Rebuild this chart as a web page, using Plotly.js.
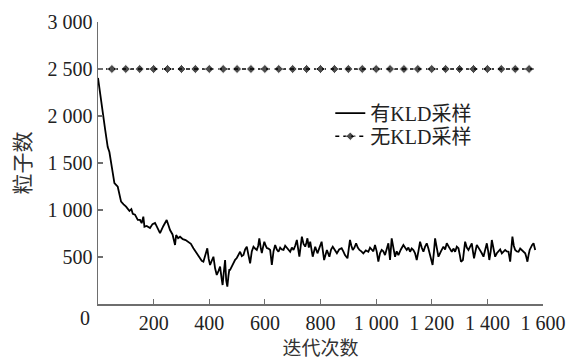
<!DOCTYPE html>
<html>
<head>
<meta charset="utf-8">
<script src="https://cdn.plot.ly/plotly-3.0.1.min.js"></script>
<style>html,body{margin:0;padding:0;background:#fff;}#chart{width:568px;height:360px;}</style>
</head>
<body>
<div id="chart"></div>
<script>
// ---- data ----
const seriesNames = ["有KLD采样", "无KLD采样"];

const iterKLD = [0,8,17,26,35,41,50,59,71,83,92,101,113,120,125,133,143,151,157,163,167,175,187,196,205,214,223,235,247,253,259,268,277,281,288,295,305,315,325,334,343,355,367,373,379,386,393,398,403,409,415,421,427,433,439,444,448,452,457,461,465,469,472,475,481,487,493,499,505,511,517,523,529,535,541,547,553,559,565,571,576,580,585,589,593,598,603,607,613,619,625,631,637,643,649,655,661,667,673,679,685,691,697,703,709,715,719,724,729,733,739,745,749,753,758,763,772,781,789,797,804,813,823,832,838,844,851,859,867,876,882,888,897,902,906,911,916,922,928,934,940,947,954,963,972,978,984,990,996,1002,1008,1014,1020,1026,1032,1038,1044,1050,1056,1062,1068,1074,1080,1089,1098,1104,1110,1116,1122,1128,1134,1140,1146,1152,1158,1164,1170,1176,1182,1188,1194,1203,1208,1212,1218,1224,1233,1242,1248,1254,1263,1272,1278,1284,1290,1296,1301,1305,1312,1316,1320,1326,1332,1338,1344,1348,1352,1357,1362,1368,1374,1380,1386,1392,1398,1403,1407,1412,1416,1422,1428,1434,1440,1446,1452,1458,1464,1470,1476,1482,1486,1490,1495,1500,1506,1512,1518,1524,1530,1536,1540,1544,1548,1552,1561,1566,1572];
const particlesKLD = [2405,2250,2030,1850,1670,1617,1450,1287,1248,1089,1060,1035,990,1010,960,950,894,894,860,929,822,830,808,850,862,800,755,830,894,840,787,740,628,734,700,716,690,680,663,640,593,540,486,460,450,520,593,480,415,460,503,380,309,350,397,280,202,330,468,250,184,300,362,362,400,436,470,489,520,556,510,521,580,610,520,433,560,610,590,575,620,699,600,543,600,663,620,596,590,575,415,560,628,580,556,600,580,575,620,596,570,556,600,575,620,681,600,503,620,716,640,610,650,699,600,663,503,610,539,600,663,468,575,503,580,610,570,539,580,593,560,521,486,600,681,620,575,600,646,600,575,560,539,570,556,600,575,560,628,560,450,540,575,560,521,600,646,468,699,600,503,560,521,580,628,600,575,600,556,590,575,540,468,560,663,600,556,610,646,590,521,415,560,699,600,503,560,610,580,646,600,556,590,556,610,593,520,450,468,560,663,600,575,610,646,560,486,560,628,600,575,540,503,590,646,560,468,560,681,590,503,540,556,580,539,560,575,560,556,450,600,716,620,575,560,556,590,575,560,539,500,450,520,575,628,646,575];

const iterNoKLD = [0,50,100,150,200,250,300,350,400,450,500,550,600,650,700,750,800,850,900,950,1000,1050,1100,1150,1200,1250,1300,1350,1400,1450,1500,1550,1570];
const particlesNoKLD = [2500,2500,2500,2500,2500,2500,2500,2500,2500,2500,2500,2500,2500,2500,2500,2500,2500,2500,2500,2500,2500,2500,2500,2500,2500,2500,2500,2500,2500,2500,2500,2500,2500];

const yTickVals = [500,1000,1500,2000,2500,3000];
const yTickText = ["500","1 000","1 500","2 000","2 500","3 000"];
const xTickVals = [200,400,600,800,1000,1200,1400,1600];
const xTickText = ["200","400","600","800","1 000","1 200","1 400","1 600"];
const zeroLabel = "0";
const xTitle = "迭代次数";
const yTitle = "粒子数";

// ---- chart ----
const numFont = "Liberation Serif, Noto Sans CJK SC, serif";
const cjkFont = "Noto Sans CJK SC, Liberation Serif, sans-serif";
const axisColor = "#6e6e6e";

const noKLDMarkerSize = iterNoKLD.map((v, i) => (i === 0 || i === iterNoKLD.length - 1) ? 0 : 7);

const traces = [
  {
    x: iterKLD, y: particlesKLD, name: seriesNames[0],
    type: "scatter", mode: "lines", legend: "legend",
    line: {color: "#000", width: 1.8}
  },
  {
    x: iterNoKLD, y: particlesNoKLD, name: seriesNames[1],
    type: "scatter", mode: "lines+markers", legend: "legend2",
    line: {color: "#000", width: 1.6, dash: "4px,4px"},
    marker: {symbol: "diamond", size: noKLDMarkerSize, color: "#000"}
  }
];

const legendFont = {family: numFont, size: 20, color: "#222"};

const layout = {
  width: 568, height: 360,
  margin: {l: 98, r: 25, t: 22, b: 56},
  paper_bgcolor: "#fff", plot_bgcolor: "#fff",
  showlegend: true,
  legend: {
    x: 0.522, y: 0.746, xanchor: "left", yanchor: "top",
    bgcolor: "rgba(0,0,0,0)", font: legendFont
  },
  legend2: {
    x: 0.522, y: 0.664, xanchor: "left", yanchor: "top",
    bgcolor: "rgba(0,0,0,0)", font: legendFont
  },
  xaxis: {
    range: [0, 1600], showgrid: false, zeroline: false,
    showline: true, linecolor: axisColor, linewidth: 1.5,
    ticks: "inside", ticklen: 5, tickwidth: 1.2, tickcolor: axisColor,
    tickvals: xTickVals, ticktext: xTickText,
    tickfont: {family: numFont, size: 20, color: "#222"},
    title: {text: xTitle, font: {family: cjkFont, size: 19, color: "#333"}, standoff: 10}
  },
  yaxis: {
    range: [0, 3000], showgrid: false, zeroline: false,
    showline: true, linecolor: axisColor, linewidth: 1.5,
    ticks: "inside", ticklen: 5, tickwidth: 1.2, tickcolor: axisColor,
    tickvals: yTickVals, ticktext: yTickText,
    tickfont: {family: numFont, size: 20, color: "#222"},
    title: {text: yTitle, font: {family: cjkFont, size: 21, color: "#333"}, standoff: 11}
  },
  annotations: [
    {text: zeroLabel, xref: "paper", yref: "paper", x: -0.03, y: -0.05,
     xanchor: "center", yanchor: "middle", showarrow: false,
     font: {family: numFont, size: 20, color: "#222"}}
  ]
};

Plotly.newPlot("chart", traces, layout, {displayModeBar: false, staticPlot: true});
</script>
</body>
</html>
